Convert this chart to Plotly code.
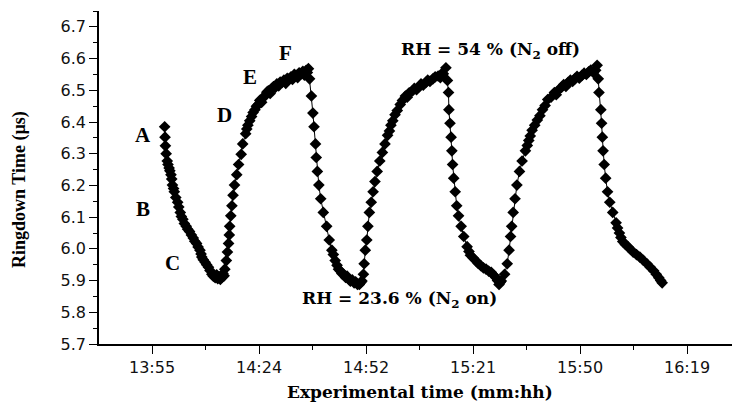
import plotly.graph_objects as go

# Time in minutes since midnight, ringdown time in microseconds
time_min = [
    838.6, 838.7, 838.8, 839.0, 839.3, 839.5, 839.8, 840.0, 840.3, 840.5, 840.7, 841.0, 841.2,
    841.6, 842.1, 842.4, 842.8, 843.1, 843.5, 843.9, 844.4, 844.8, 845.3, 845.8, 846.3, 846.7,
    847.2, 847.6, 848.1, 848.4, 848.6, 849.0, 849.5, 849.9, 850.4, 850.8, 851.3, 851.7, 852.2,
    852.6, 852.9, 853.2, 853.6, 854.0, 854.3, 854.6, 854.8,
    855.2, 855.5, 855.8, 856.0, 856.1, 856.4, 856.7, 857.0, 857.4, 858.0, 858.5, 859.2, 859.6,
    860.4, 860.7, 861.0, 861.5, 862.0, 862.4, 862.9, 863.3, 863.8, 864.2, 864.7, 865.2, 865.8,
    866.1, 866.5, 867.0, 867.4, 867.9, 868.4, 868.8, 869.3, 869.7, 870.2, 870.7, 871.2, 871.6,
    872.1, 872.6, 873.0, 873.5, 873.9, 874.4, 874.8, 875.3, 875.8, 876.2, 876.7, 877.0, 877.3,
    877.6, 878.1, 878.5, 878.8, 879.2, 879.4, 879.7, 880.1, 880.6, 881.3, 882.2, 882.9,
    883.6, 884.0, 884.5, 885.0, 885.4, 885.9, 886.3, 886.8, 887.3, 887.7, 888.2, 888.6, 889.1,
    889.6, 890.0, 890.5, 891.0, 891.4, 891.7,
    892.1, 892.3, 892.6, 893.0, 893.3, 893.7, 894.2, 894.7, 895.2, 895.8, 896.5,
    897.2, 897.9, 898.6, 899.1, 899.5, 900.0, 900.6, 901.2, 902.0, 902.6, 903.4, 903.9, 904.4,
    905.3, 905.8, 906.4, 907.1, 907.6, 908.2, 908.9, 909.4, 910.0, 910.8, 911.4, 912.2, 912.8,
    913.3, 913.6, 914.3,
    914.7, 915.0, 915.1, 915.4, 915.7, 915.9, 916.1, 916.4, 916.8, 917.2, 917.7, 918.4, 919.1,
    920.0, 920.5, 920.9, 921.6, 922.3, 923.0, 923.7, 924.4, 925.1, 925.8, 926.5, 927.2, 927.8,
    928.2, 928.6, 928.9, 929.2,
    930.1, 930.8, 931.3, 931.7, 932.0, 932.4, 932.9, 933.4, 934.1, 934.8,
    935.7, 936.2, 936.6, 937.0, 937.5, 938.2, 938.9, 939.6, 940.3, 941.0, 941.7, 942.6, 943.5,
    944.0, 944.5, 945.4, 946.0, 946.6, 947.2, 947.8, 948.4, 949.0, 949.6, 950.2, 950.9, 951.5,
    952.1, 952.7, 953.3, 954.0, 954.6, 955.0,
    955.3, 955.5, 956.0, 956.2, 956.4, 956.6, 956.9, 957.3, 957.8, 958.4, 959.2,
    960.1, 960.5, 961.0, 961.4, 961.9, 962.6, 963.3, 964.0, 964.7, 965.6, 966.5, 967.4, 968.4,
    969.3, 970.2, 970.9, 971.6, 972.1, 972.5]
ringdown = [
    6.385, 6.352, 6.325, 6.300, 6.277, 6.266, 6.255, 6.246, 6.234, 6.220, 6.201, 6.190, 6.180,
    6.162, 6.147, 6.132, 6.115, 6.102, 6.093, 6.080, 6.071, 6.062, 6.055, 6.044, 6.034, 6.024,
    6.017, 6.006, 5.996, 5.984, 5.974, 5.966, 5.958, 5.950, 5.942, 5.932, 5.920, 5.914, 5.909,
    5.918, 5.906, 5.912, 5.904, 5.910, 5.922, 5.915, 5.936,
    5.963, 5.990, 6.017, 6.044, 6.071, 6.104, 6.136, 6.169, 6.201, 6.234, 6.266, 6.298, 6.331,
    6.363, 6.378, 6.390, 6.404, 6.417, 6.430, 6.439, 6.450, 6.455, 6.468, 6.462, 6.477, 6.486,
    6.494, 6.498, 6.490, 6.505, 6.512, 6.509, 6.520, 6.514, 6.526, 6.525, 6.532, 6.522, 6.538,
    6.536, 6.542, 6.534, 6.550, 6.547, 6.540, 6.555, 6.552, 6.560, 6.548, 6.563, 6.556, 6.568,
    6.536, 6.482, 6.428, 6.385, 6.331, 6.288, 6.244, 6.201, 6.158, 6.115, 6.071, 6.028,
    5.996, 5.982, 5.963, 5.948, 5.936, 5.930, 5.922, 5.920, 5.910, 5.914, 5.904, 5.898, 5.902,
    5.893, 5.896, 5.888, 5.888, 5.894, 5.899,
    5.920, 5.953, 5.996, 6.028, 6.071, 6.115, 6.147, 6.180, 6.212, 6.244, 6.277,
    6.304, 6.331, 6.358, 6.372, 6.390, 6.404, 6.423, 6.436, 6.455, 6.468, 6.482, 6.478, 6.492,
    6.498, 6.506, 6.502, 6.512, 6.520, 6.516, 6.525, 6.532, 6.528, 6.536, 6.542, 6.545, 6.540,
    6.554, 6.552, 6.571,
    6.531, 6.493, 6.439, 6.396, 6.352, 6.309, 6.266, 6.223, 6.180, 6.136, 6.104, 6.071, 6.039,
    6.007, 5.992, 5.980, 5.972, 5.963, 5.954, 5.947, 5.940, 5.936, 5.930, 5.926, 5.916, 5.909,
    5.900, 5.888, 5.894, 5.899,
    5.920, 5.953, 5.996, 6.039, 6.071, 6.115, 6.158, 6.201, 6.244, 6.277,
    6.309, 6.326, 6.342, 6.356, 6.374, 6.390, 6.406, 6.420, 6.439, 6.452, 6.471, 6.478, 6.493,
    6.486, 6.500, 6.509, 6.518, 6.512, 6.525, 6.532, 6.528, 6.536, 6.544, 6.538, 6.547, 6.554,
    6.550, 6.558, 6.564, 6.556, 6.563, 6.579,
    6.536, 6.493, 6.439, 6.396, 6.352, 6.309, 6.266, 6.223, 6.180, 6.147, 6.115,
    6.082, 6.066, 6.050, 6.036, 6.023, 6.014, 6.007, 5.998, 5.990, 5.982, 5.974, 5.964, 5.953,
    5.942, 5.931, 5.920, 5.909, 5.900, 5.893]

x_tickvals = [835.2, 864.0, 892.8, 921.6, 950.4, 979.2]
x_ticktext = ["13:55", "14:24", "14:52", "15:21", "15:50", "16:19"]
x_minorvals = [820.8, 849.6, 878.4, 907.2, 936.0, 964.8]
y_tickvals = [5.7, 5.8, 5.9, 6.0, 6.1, 6.2, 6.3, 6.4, 6.5, 6.6, 6.7]

point_labels = ["A", "B", "C", "D", "E", "F"]
label_x = [832.8, 832.8, 840.6, 854.6, 861.6, 871.0]
label_y = [6.359, 6.126, 5.956, 6.422, 6.542, 6.618]

rh_texts = ["RH = 54 % (N<sub>2</sub> off)", "RH = 23.6 % (N<sub>2</sub> on)"]
rh_x = [926.2, 901.9]
rh_y = [6.627, 5.839]

fig = go.Figure()
fig.add_trace(go.Scatter(
    x=time_min, y=ringdown, mode="lines+markers",
    line=dict(color="black", width=1),
    marker=dict(symbol="diamond", size=9, color="black"),
    showlegend=False, cliponaxis=False,
))

serif = "Liberation Serif, Times New Roman, serif"
wide_serif = "DejaVu Serif, serif"
for t, x, y in zip(point_labels, label_x, label_y):
    fig.add_annotation(x=x, y=y, text=f"<b>{t}</b>", showarrow=False,
                       font=dict(family=serif, size=21, color="black"))
for t, x, y in zip(rh_texts, rh_x, rh_y):
    fig.add_annotation(x=x, y=y, text=f"<b>{t}</b>", showarrow=False,
                       font=dict(family=wide_serif, size=17, color="black"))

# axis titles
fig.add_annotation(xref="paper", yref="paper", x=0.507, y=-0.144,
                   xanchor="center", yanchor="middle",
                   text="<b>Experimental time (mm:hh)</b>", showarrow=False,
                   font=dict(family=wide_serif, size=17, color="black"))
fig.add_annotation(xref="paper", yref="paper", x=-0.1248, y=0.4625, textangle=-90,
                   xanchor="center", yanchor="middle",
                   text="<b>Ringdown Time (µs)</b>", showarrow=False,
                   font=dict(family=serif, size=18, color="black"))

tickfont = dict(family="DejaVu Sans, sans-serif", size=16, color="#111")
fig.update_layout(
    width=732, height=404,
    margin=dict(l=99, r=0, t=11, b=60),
    paper_bgcolor="white", plot_bgcolor="white",
    font=dict(family="DejaVu Sans, sans-serif", size=14, color="black"),
    xaxis=dict(
        range=[820.93, 991.3], tickmode="array", tickvals=x_tickvals, ticktext=x_ticktext,
        showgrid=False, zeroline=False, showline=True, linecolor="black", linewidth=1.5,
        ticks="outside", ticklen=8, tickwidth=1.2, tickcolor="black",
        minor=dict(tickmode="array", tickvals=x_minorvals, ticks="outside", ticklen=4,
                   tickwidth=1.2, tickcolor="black"),
        tickfont=tickfont,
    ),
    yaxis=dict(
        range=[5.7, 6.75], tickmode="array", tickvals=y_tickvals,
        ticktext=[f"{v:.1f}" for v in y_tickvals],
        showgrid=False, zeroline=False, showline=True, linecolor="black", linewidth=1.5,
        ticks="outside", ticklen=8, tickwidth=1.2, tickcolor="black",
        minor=dict(dtick=0.05, tick0=5.7, ticks="outside", ticklen=4, tickwidth=1.2,
                   tickcolor="black"),
        tickfont=tickfont,
    ),
)

fig.write_html("out.html")
